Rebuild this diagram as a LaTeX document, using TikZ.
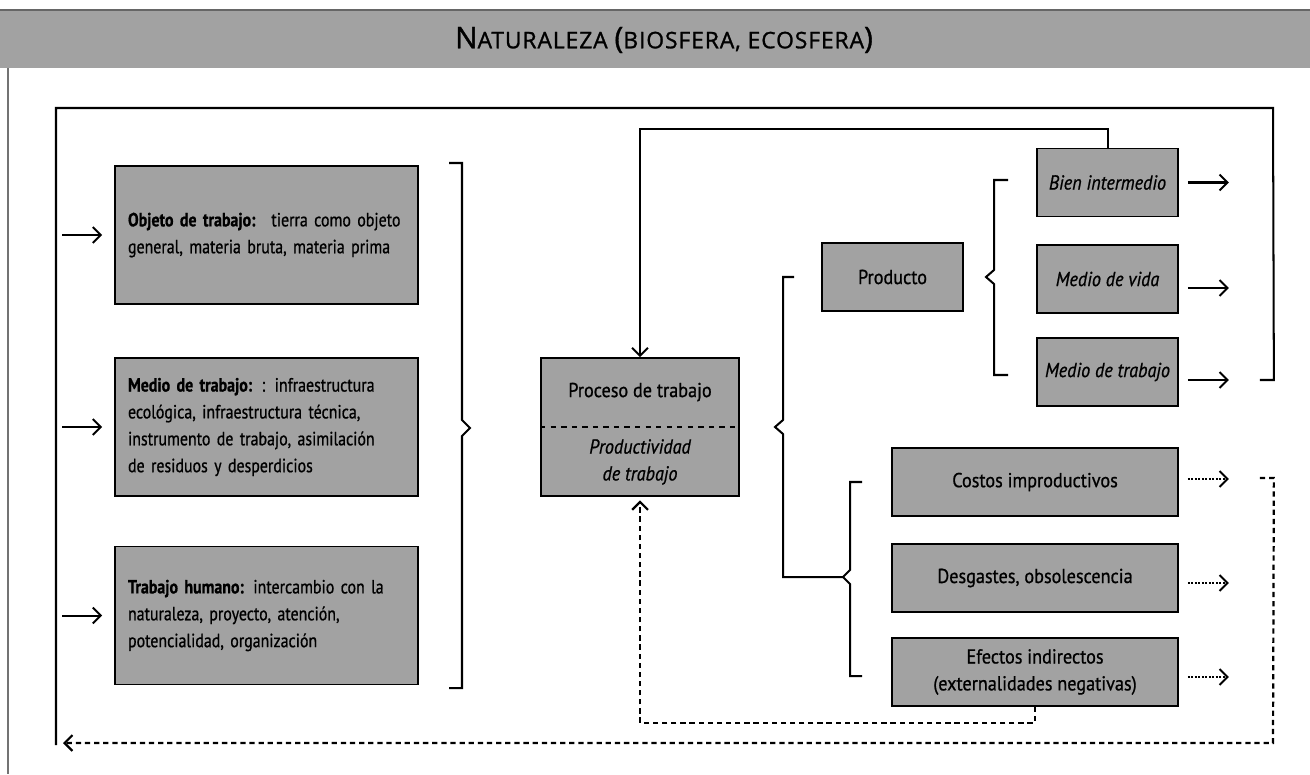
\documentclass[tikz,border=0pt]{standalone}
\usepackage{fontspec}
\setmainfont{PT Sans}[FakeStretch=0.9, FakeBold=0.8]
\newfontfamily\izqfont{PT Sans}[FakeStretch=0.83, FakeBold=0.8]
\newfontfamily\titulofont{Open Sans}[LetterSpace=4, FakeBold=1.2]
\usetikzlibrary{arrows.meta, calc, positioning}
\definecolor{cajagris}{RGB}{162,162,162}
\hyphenpenalty=10000
\newcommand*{\cajafont}{\fontsize{11.5}{15.3}\selectfont}
\newcommand*{\izqcaja}{\izqfont\fontsize{10.9}{15.3}\selectfont}
\newcommand*{\grande}{\fontsize{17}{18}\selectfont}
\newcommand*{\chica}{\fontsize{13}{18}\selectfont}
\tikzset{
  caja/.style={draw, line width=1pt, fill=cajagris, inner sep=0pt, align=center, font=\cajafont},
  cajaizq/.style={caja, align=left, text width=5.54cm, inner xsep=0.26cm, minimum height=2.76cm, font=\izqcaja},
  linea/.style={line width=1.15pt},
  flecha/.style={line width=1.15pt, -{Straight Barb[length=4.5pt,width=9pt]}},
  punteada/.style={line width=1pt, densely dotted, -{Straight Barb[length=4.5pt,width=9pt,line width=1.15pt]}},
  rayada/.style={line width=1.25pt, dash pattern=on 3pt off 2.2pt},
}

\begin{document}
\begin{tikzpicture}[x=0.02cm, y=-0.02cm]
 \useasboundingbox (0,0) rectangle (1310,774);
 % banda del titulo
 \fill[cajagris] (0,10) rectangle (1310,68);
 \draw[line width=0.8pt, black!60] (0,10) -- (1310,10);
 \draw[line width=0.6pt, black!55] (8,68) -- (8,774);
 \node[font=\titulofont] (titulo) at (664,40) {\grande N\chica ATURALEZA \grande(\chica BIOSFERA, ECOSFERA\grande)};

 % entradas
 \node[cajaizq] (obj) at (266.5,235) {\textbf{Objeto de trabajo:}~ tierra como objeto\\general, materia bruta, materia prima};
 \node[cajaizq] (med) at (266.5,427) {\textbf{Medio de trabajo:} : infraestructura\\ecológica, infraestructura técnica,\\instrumento de trabajo, asimilación\\de residuos y desperdicios};
 \node[cajaizq] (hum) at (266.5,615.5) {\textbf{Trabajo humano:} intercambio con la\\naturaleza, proyecto, atención,\\potencialidad, organización};

 % proceso
 \node[caja, minimum width=3.96cm, minimum height=2.76cm] (proc) at (640,427) {};
 \draw[dashed, line width=0.6pt] (proc.west) -- (proc.east);
 \node[font=\cajafont] at ($(proc.north)!0.25!(proc.south)$) {Proceso de trabajo};
 \node[font=\cajafont\itshape, align=center] at ($(proc.north)!0.75!(proc.south)$) {Productividad\\de trabajo};

 % salidas
 \node[caja, minimum width=2.82cm, minimum height=1.36cm] (prod) at (892.5,277) {Producto};
 \node[caja, minimum width=2.82cm, minimum height=1.36cm, font=\cajafont\itshape] (bien) at (1107.5,182.5) {Bien intermedio};
 \node[caja, minimum width=2.82cm, minimum height=1.36cm, font=\cajafont\itshape] (vida) at (1107.5,279) {Medio de vida};
 \node[caja, minimum width=2.82cm, minimum height=1.36cm, font=\cajafont\itshape] (mtrab) at (1107.5,372) {Medio de trabajo};
 \node[caja, minimum width=5.72cm, minimum height=1.36cm] (cost) at (1035,482) {Costos improductivos};
 \node[caja, minimum width=5.72cm, minimum height=1.36cm] (desg) at (1035,578) {Desgastes, obsolescencia};
 \node[caja, minimum width=5.72cm, minimum height=1.36cm] (efec) at (1035,672) {Efectos indirectos\\(externalidades negativas)};

 % flechas
 \draw[flecha] (obj.west) ++(-52,0) -- ++(40,0);
 \draw[flecha] (med.west) ++(-52,0) -- ++(40,0);
 \draw[flecha] (hum.west) ++(-52,0) -- ++(40,0);
 \draw[flecha] (bien.east) ++(9,0) -- ++(41,0);
 \draw[flecha] (vida.east) ++(9,9) -- ++(41,0);
 \draw[flecha] (mtrab.east) ++(9,8) -- ++(41,0);
 \draw[punteada] (cost.east) ++(9,-3) -- ++(41,0);
 \draw[punteada] (desg.east) ++(9,5) -- ++(41,0);
 \draw[punteada] (efec.east) ++(9,5) -- ++(41,0);

 % llaves
 \draw[linea] (449,163) -- (462,163) -- (462,420) -- (470,428) -- (462,436) -- (462,688) -- (449,688);
 \draw[linea] (prod.west) ++(-27,0) -- (783,277) -- (783,420) -- (775,427) -- (783,434) -- (783,577) -- (843,577);
 \draw[linea] (1008,180) -- (994,180) -- (994,270) -- (986,277) -- (994,284) -- (994,375) -- (1008,375);
 \draw[linea] (862,482) -- (850,482) -- (850,570) -- (843,577) -- (850,584) -- (850,676) -- (862,676);

 % retroalimentacion
 \draw[flecha] (bien.north) -- ++(0,-19) -| (proc.north);
 \draw[rayada, -{Straight Barb[length=4.5pt,width=9pt]}, shorten >=2pt] (efec.south) -- ++(0,16) -| (proc.south);
 \coordinate (lazo) at (1273,108);
 \draw[linea] (mtrab.east) ++(81,8) -- ++(14,0) -- (lazo) -- (56,108) -- (56,745);
 \draw[rayada, -{Straight Barb[length=4.5pt,width=9pt]}] (cost.east) ++(81,-4) -- ++(14,0) -- (1273,743) -- (63,743);
\end{tikzpicture}
\end{document}
